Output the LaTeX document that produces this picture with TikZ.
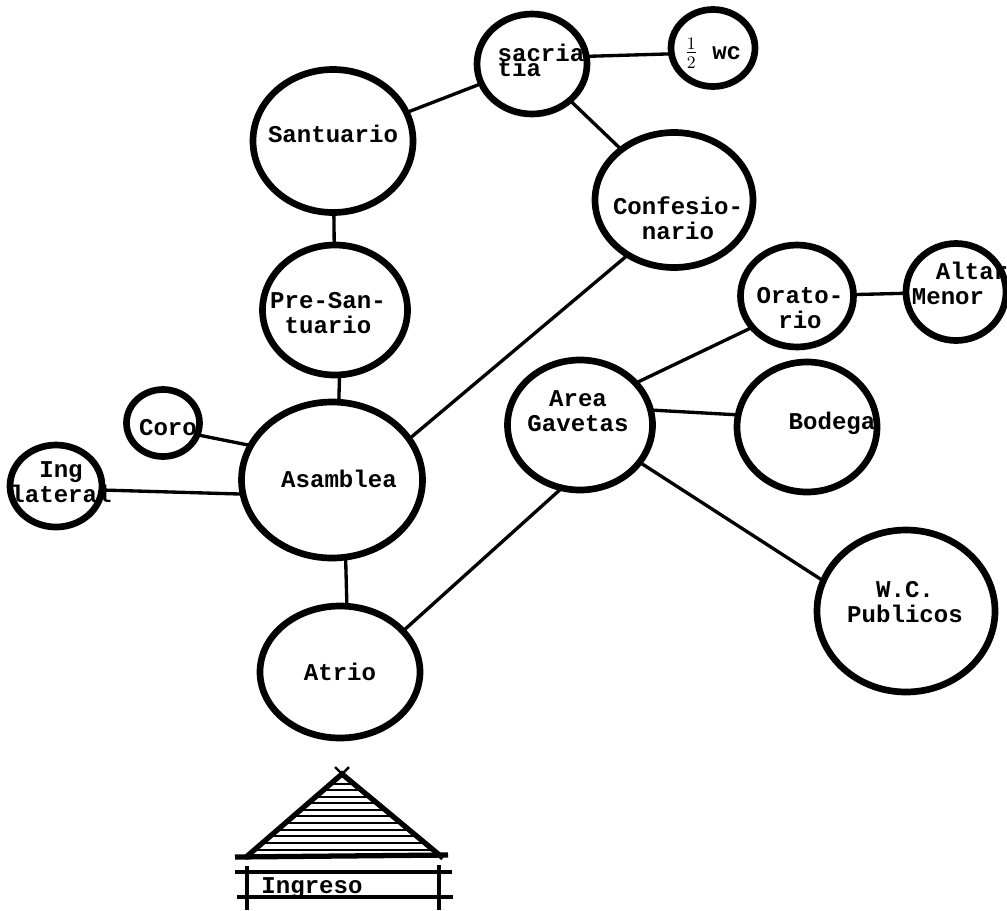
\documentclass[tikz,border=0pt]{standalone}
\usepackage{amsmath}
\usepackage{fontspec}
\setmonofont{Liberation Mono}
\usetikzlibrary{shapes.geometric}
\tikzset{
  room/.style 2 args={draw,ellipse,line width=3.8pt,inner sep=0pt,outer sep=0pt,
    minimum width=#1*0.02cm,minimum height=#2*0.02cm},
  link/.style={line width=1.9pt},
  txt/.style={font=\ttfamily\bfseries\fontsize{13.7}{14.2}\selectfont,inner sep=0pt,align=center},
  roofline/.style={line width=3pt},
  hatch/.style={line width=1.6pt}
}
\begin{document}
\begin{tikzpicture}[x=0.02cm,y=-0.02cm]
    \useasboundingbox (0,0) rectangle (1007,910);
    \node[room={110}{100}] (sacristia) at (532,64) {};
    \node[room={84}{77}] (wc) at (713,48) {};
    \node[room={160}{143}] (santuario) at (333,141) {};
    \node[room={158}{135}] (confesionario) at (674,200) {};
    \node[room={145}{130}] (presantuario) at (335,310) {};
    \node[room={181}{156}] (asamblea) at (332,480) {};
    \node[room={160}{132}] (atrio) at (340,672) {};
    \node[room={145}{130}] (area) at (580,425) {};
    \node[room={113}{102}] (oratorio) at (797,296) {};
    \node[room={100}{97}] (altar) at (956,292) {};
    \node[room={140}{130}] (bodega) at (807,427) {};
    \node[room={178}{162}] (publicos) at (906,611) {};
    \node[room={73}{67}] (coro) at (163,423) {};
    \node[room={92}{82}] (ingreso) at (56,486) {};
    % labels
    \node[txt,align=left] (sacristiatxt) at (541,60) {sacria\\[-5.7pt]tia};
    \node[txt] (wctxt) at (713,53) {$\frac{1}{2}$ wc};
    \node[txt] (santuariotxt) at (333,134) {Santuario};
    \node[txt] (confesionariotxt) at (678,218) {Confesio-\\nario};
    \node[txt] (presantuariotxt) at (328,313) {Pre-San-\\tuario};
    \node[txt] (asambleatxt) at (339,479) {Asamblea};
    \node[txt] (atriotxt) at (340,672) {Atrio};
    \node[txt] (areatxt) at (578,411) {Area\\Gavetas};
    \node[txt] (oratoriotxt) at (800,308) {Orato-\\rio};
    \node[txt,align=left] (altartxt) at (960,283) {\hspace*{1.0em}Altar\\Menor};
    \node[txt] (bodegatxt) at (832,423) {Bodega};
    \node[txt] (publicostxt) at (905,602) {W.C.\\Publicos};
    \node[txt] (corotxt) at (168,428) {Coro};
    \node[txt] (ingresotxt) at (61,482) {Ing\\lateral};
    % connectors
    \draw[link] (santuario) -- (sacristia);
    \draw[link] (sacristia.8) -- (wc.188);
    \draw[link] (sacristia) -- (confesionario);
    \draw[link] (santuario) -- (presantuario);
    \draw[link] (presantuario.-86) -- (asamblea.85);
    \draw[link] (asamblea.-80) -- (atrio.84);
    \draw[link] (asamblea.28) -- (confesionario.230);
    \draw[link] (atrio.33) -- (area.254);
    \draw[link] (area.37) -- (oratorio.215);
    \draw[link] (oratorio) -- (altar);
    \draw[link] (area.12) -- (bodega.170);
    \draw[link] (area.-32) -- (publicos.160);
    \draw[link] (coro.-19) -- (asamblea.157);
    \draw[link] (ingreso.-5) -- (asamblea.189);
    % ingreso
    \coordinate (apex) at (342,774);
    \coordinate (roofl) at (245,858);
    \coordinate (roofr) at (443,858);
    \foreach \h in {784,790,797,803,810,816,823,830,836,843,850}
      \draw[hatch] ({342-(\h-774)*1.18},\h) -- ({342+(\h-774)*1.18},\h);
    \draw[roofline] (roofl) -- (apex) -- (roofr);
    \draw[roofline,line width=1.4pt] (335,767) -- (apex) -- (349,767);
    \draw[roofline] (235,857) -- (448,855);
    \draw[roofline,line width=2.4pt] (235,872) -- (452,872);
    \draw[roofline,line width=2.4pt] (237,897) -- (453,897);
    \draw[roofline,line width=2.4pt] (247,866) -- (247,910);
    \draw[roofline,line width=2.4pt] (439,865) -- (439,910);
    \node[txt] (ingresolbl) at (312,888) {Ingreso};
\end{tikzpicture}
\end{document}
